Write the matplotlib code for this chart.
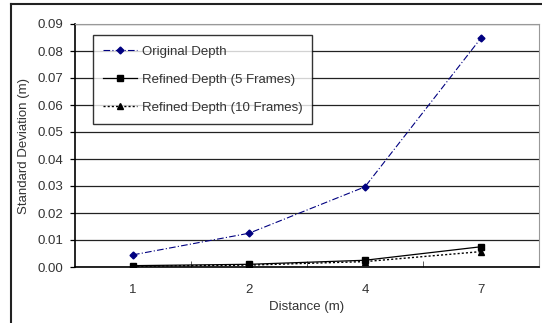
import matplotlib.pyplot as plt
from matplotlib.lines import Line2D
from matplotlib.ticker import FormatStrFormatter

distances = ["1", "2", "4", "7"]
original = [0.0045, 0.0125, 0.0297, 0.0848]
refined_5 = [0.0005, 0.0010, 0.0025, 0.0075]
refined_10 = [0.0003, 0.0007, 0.0020, 0.0057]

plt.rcParams['font.family'] = ['Liberation Sans', 'DejaVu Sans']

fig = plt.figure(figsize=(5.42, 3.23), dpi=100)
ax = fig.add_axes([75 / 542, 1 - 267 / 323, 464 / 542, 243 / 323])

# outer chart frame (only left/top visible in the crop)
fig.add_artist(Line2D([11 / 542, 11 / 542], [0, 1 - 4 / 323], color="#222222", lw=1.5))
fig.add_artist(Line2D([11 / 542, 1], [1 - 4 / 323, 1 - 4 / 323], color="#222222", lw=1.5))

x = range(len(distances))
ax.plot(x, original, color="#000080", ls=(0, (6, 2, 1, 2)), lw=0.8,
        marker="D", ms=3.5, label="Original Depth")
ax.plot(x, refined_5, color="black", ls="-", lw=0.9,
        marker="s", ms=5, label="Refined Depth (5 Frames)")
ax.plot(x, refined_10, color="black", ls=(0, (1.5, 1.5)), lw=1.0,
        marker="^", ms=4, label="Refined Depth (10 Frames)")

ax.set_xlim(-0.5, 3.5)
ax.set_ylim(0, 0.09)
ax.set_yticks([i * 0.01 for i in range(10)])
ax.yaxis.set_major_formatter(FormatStrFormatter("%.2f"))
ax.yaxis.grid(True, color="#222222", lw=0.9)
ax.set_axisbelow(True)

ax.set_xticks(list(x))
ax.set_xticklabels(distances)
ax.set_xticks([0.5, 1.5, 2.5], minor=True)
ax.tick_params(axis="x", which="major", length=0, pad=12)
ax.tick_params(axis="x", which="minor", direction="in", length=4, color="#444444")
ax.tick_params(axis="y", direction="out", length=3.5, width=0.9, pad=5)
ax.tick_params(labelsize=9.5, labelcolor="#333333")

for s in ["top", "right"]:
    ax.spines[s].set_color("#999999")
for s in ["left", "bottom"]:
    ax.spines[s].set_color("black")
    ax.spines[s].set_linewidth(1.2)

ax.set_xlabel("Distance (m)", fontsize=9.5, color="#333333", labelpad=4)
ax.set_ylabel("Standard Deviation (m)", fontsize=9.5, color="#333333", labelpad=5)

leg = ax.legend(loc="upper left", bbox_to_anchor=(0.024, 0.98), fontsize=9.5,
                frameon=True, fancybox=False, edgecolor="black", shadow=False,
                borderpad=0.75, borderaxespad=0.5, labelspacing=1.2,
                handlelength=2.6, handletextpad=0.35)
leg.get_frame().set_linewidth(1.0)
for t in leg.get_texts():
    t.set_color("#333333")

fig.savefig("out.png", dpi=100)
